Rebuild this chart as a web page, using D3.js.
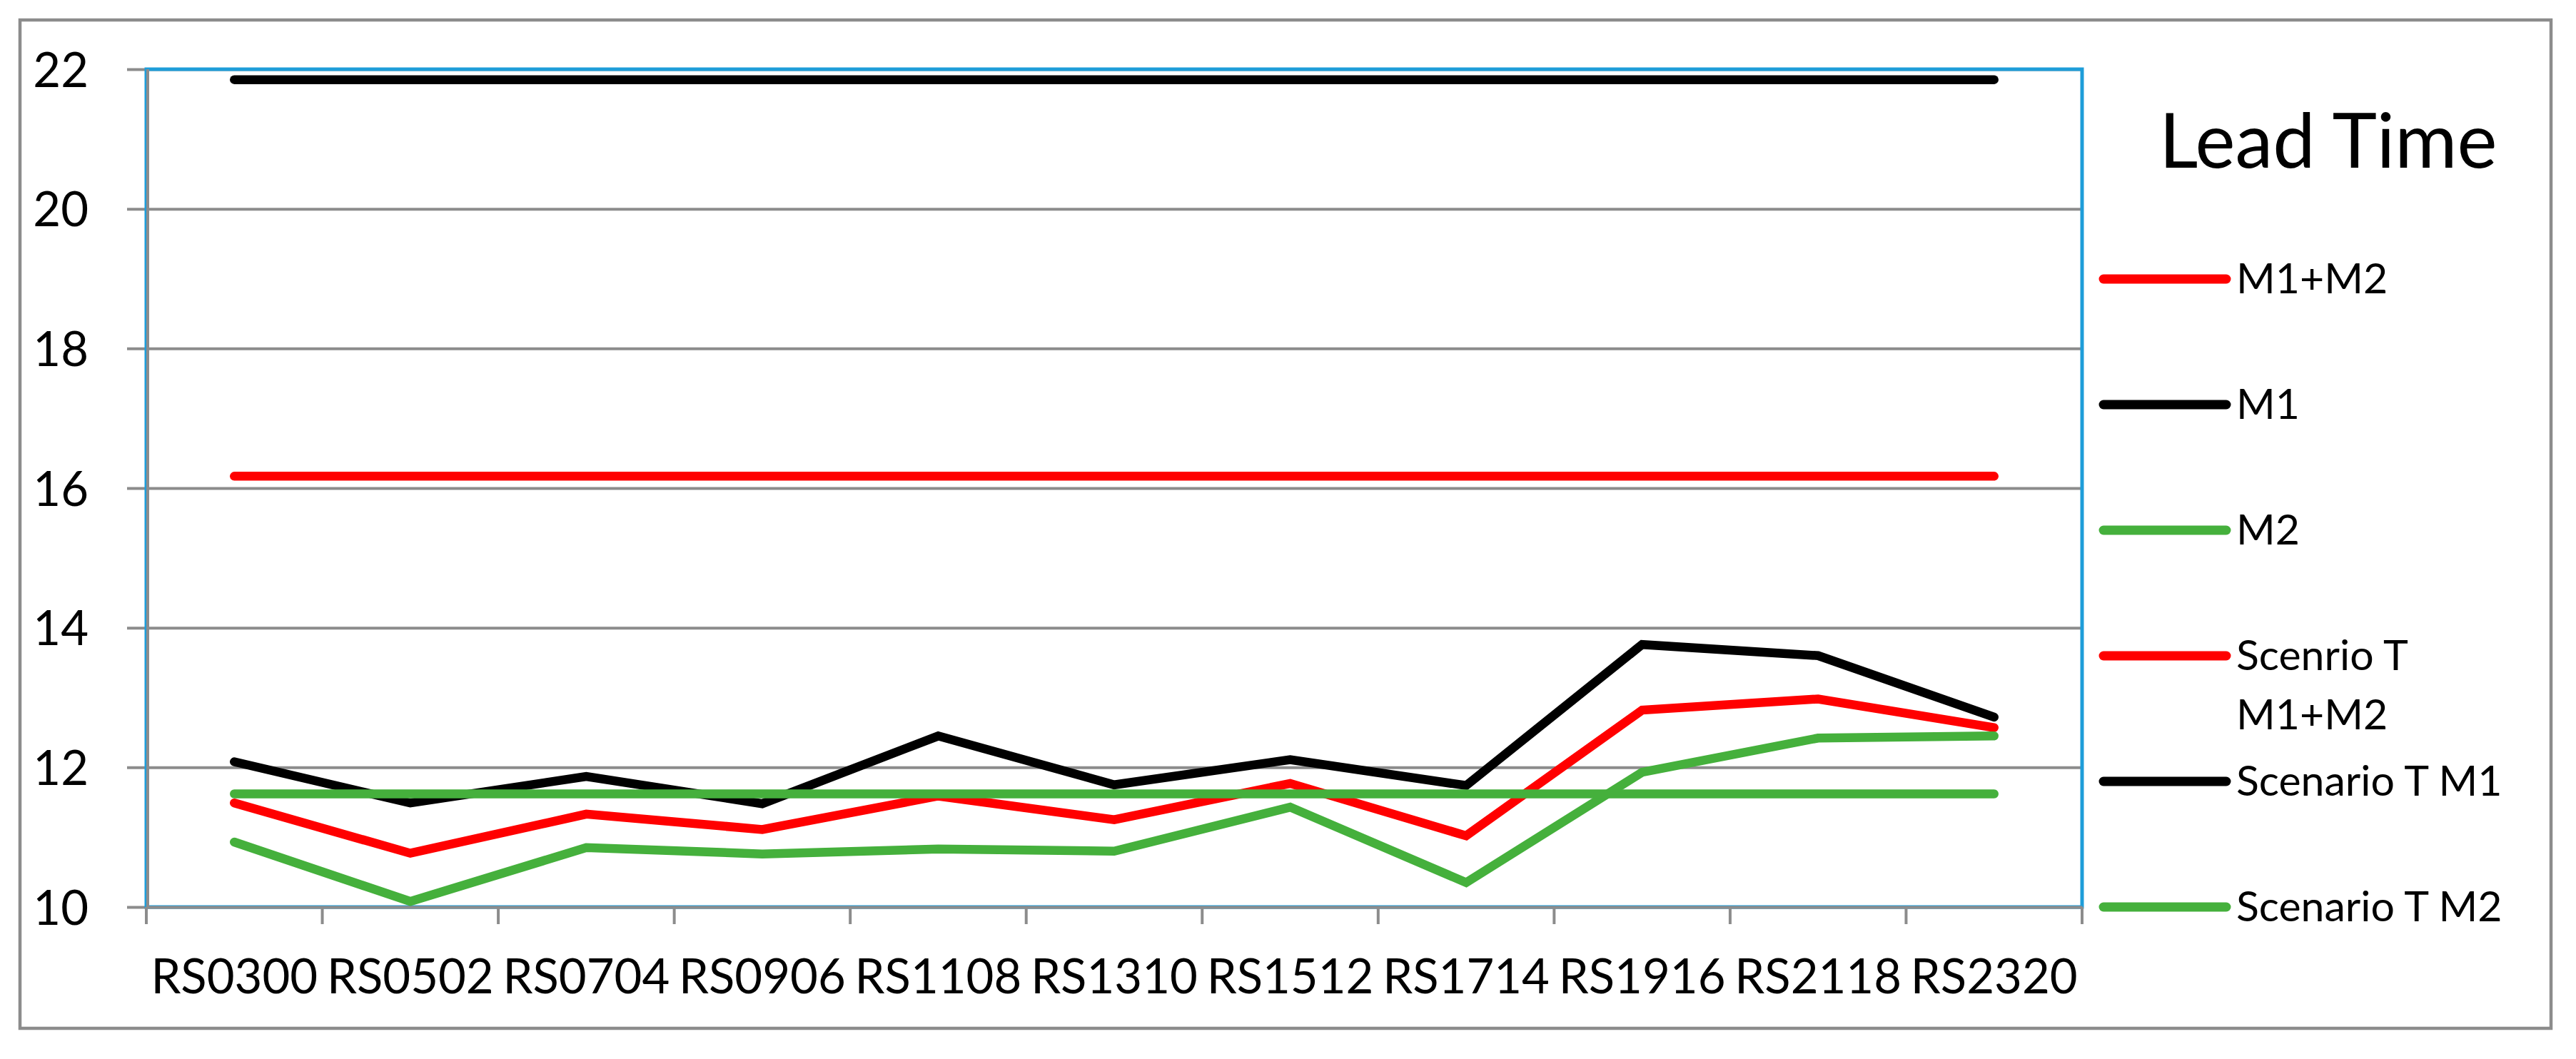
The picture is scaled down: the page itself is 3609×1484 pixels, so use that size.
<!DOCTYPE html>
<html>
<head>
<meta charset="utf-8">
<script src="https://cdn.jsdelivr.net/npm/d3@7"></script>
<style>
  html, body { margin: 0; padding: 0; background: #fff; }
  svg { display: block; font-family: Lato, "Open Sans", sans-serif; }
</style>
</head>
<body>
<div id="chart"></div>
<script>
// data
const categories = ["RS0300", "RS0502", "RS0704", "RS0906", "RS1108", "RS1310", "RS1512", "RS1714", "RS1916", "RS2118", "RS2320"];
const yTicks = [10, 12, 14, 16, 18, 20, 22];

const m1m2 = [16.17, 16.17, 16.17, 16.17, 16.17, 16.17, 16.17, 16.17, 16.17, 16.17, 16.17];
const m1 = [21.85, 21.85, 21.85, 21.85, 21.85, 21.85, 21.85, 21.85, 21.85, 21.85, 21.85];
const m2 = [11.62, 11.62, 11.62, 11.62, 11.62, 11.62, 11.62, 11.62, 11.62, 11.62, 11.62];
const scenM1M2 = [11.49, 10.77, 11.33, 11.11, 11.59, 11.25, 11.77, 11.02, 12.82, 12.98, 12.57];
const scenM1 = [12.08, 11.49, 11.87, 11.48, 12.45, 11.75, 12.11, 11.74, 13.76, 13.60, 12.72];
const scenM2 = [10.93, 10.08, 10.85, 10.76, 10.83, 10.80, 11.43, 10.35, 11.93, 12.42, 12.45];

const legendTitle = "Lead Time";
const legendNames = ["M1+M2", "M1", "M2", "Scenrio T M1+M2", "Scenario T M1", "Scenario T M2"];

const RED = "#ff0000", BLACK = "#000000", GREEN = "#45b03c";
const GRAY = "#8c8c8c", BLUE = "#1e9dd9";

// legend order
const series = [
    { name: legendNames[0], values: m1m2, color: RED },
    { name: legendNames[1], values: m1, color: BLACK },
    { name: legendNames[2], values: m2, color: GREEN },
    { name: legendNames[3], values: scenM1M2, color: RED, lines: ["Scenrio T", "M1+M2"] },
    { name: legendNames[4], values: scenM1, color: BLACK },
    { name: legendNames[5], values: scenM2, color: GREEN }
];
// scenario lines sit under the flat ones
const drawOrder = [3, 4, 5, 0, 1, 2];

const width = 3609;
const height = 1484;
const plot = { left: 205, top: 97, right: 2917, bottom: 1271 };

const svg = d3.select("#chart")
    .append("svg")
    .attr("width", width)
    .attr("height", height);

svg.append("rect")
    .attr("width", width)
    .attr("height", height)
    .attr("fill", "#fff");

// outer frame
svg.append("rect")
    .attr("x", 28)
    .attr("y", 28)
    .attr("width", 3546)
    .attr("height", 1413)
    .attr("fill", "none")
    .attr("stroke", GRAY)
    .attr("stroke-width", 4.5);

const x = d3.scaleBand()
    .domain(categories)
    .range([plot.left, plot.right])
    .padding(0);

const y = d3.scaleLinear()
    .domain([10, 22])
    .range([plot.bottom, plot.top]);

const cx = c => x(c) + x.bandwidth() / 2;

// gridlines + y labels
const yAxis = svg.append("g")
    .attr("transform", `translate(${plot.left},0)`)
    .call(d3.axisLeft(y).tickValues(yTicks).tickSize(0).tickPadding(0));

yAxis.select(".domain").remove();
yAxis.selectAll(".tick line")
    .attr("x1", -27)
    .attr("x2", plot.right - plot.left)
    .attr("stroke", GRAY)
    .attr("stroke-width", 4);
yAxis.selectAll(".tick text")
    .attr("x", 124 - plot.left)
    .attr("dy", "0.36em")
    .attr("fill", "#000")
    .attr("font-family", "Lato")
    .attr("font-size", 67);

// plot area border
svg.append("rect")
    .attr("x", plot.left)
    .attr("y", plot.top)
    .attr("width", plot.right - plot.left)
    .attr("height", plot.bottom - plot.top)
    .attr("fill", "none")
    .attr("stroke", BLUE)
    .attr("stroke-width", 5);

// y axis line
svg.append("line")
    .attr("x1", plot.left + 2).attr("x2", plot.left + 2)
    .attr("y1", plot.top).attr("y2", plot.bottom + 2)
    .attr("stroke", GRAY)
    .attr("stroke-width", 4);

// x axis with labels at centres, ticks at category edges
const xAxis = svg.append("g")
    .attr("transform", `translate(0,${plot.bottom})`)
    .call(d3.axisBottom(x).tickSize(0).tickPadding(0));

xAxis.select(".domain")
    .attr("stroke", GRAY)
    .attr("stroke-width", 4);
xAxis.selectAll(".tick text")
    .attr("y", 121)
    .attr("dy", 0)
    .attr("fill", "#000")
    .attr("font-family", "Lato")
    .attr("font-size", 67);

svg.append("g")
    .selectAll("line")
    .data(categories.map(c => x(c)).concat([plot.right]))
    .enter()
    .append("line")
    .attr("x1", d => d).attr("x2", d => d)
    .attr("y1", plot.bottom).attr("y2", plot.bottom + 24)
    .attr("stroke", GRAY)
    .attr("stroke-width", 4);

// series
const line = d3.line()
    .x((d, i) => cx(categories[i]))
    .y(d => y(d));

svg.append("g")
    .selectAll("path")
    .data(drawOrder.map(i => series[i]))
    .enter()
    .append("path")
    .attr("d", d => line(d.values))
    .attr("fill", "none")
    .attr("stroke", d => d.color)
    .attr("stroke-width", 12.5)
    .attr("stroke-linecap", "round")
    .attr("stroke-linejoin", "miter");

// legend
svg.append("text")
    .attr("x", 3025)
    .attr("y", 235)
    .attr("font-family", "Lato")
    .attr("font-size", 106)
    .attr("fill", "#000")
    .text(legendTitle);

const legend = svg.append("g")
    .selectAll("g")
    .data(series)
    .enter()
    .append("g")
    .attr("transform", (d, i) => `translate(0,${391 + i * 176})`);

legend.append("line")
    .attr("x1", 2947).attr("x2", 3119)
    .attr("y1", 0).attr("y2", 0)
    .attr("stroke", d => d.color)
    .attr("stroke-width", 13)
    .attr("stroke-linecap", "round");

legend.append("text")
    .attr("x", 3133)
    .attr("y", 20)
    .attr("font-family", "Lato")
    .attr("font-size", 59)
    .attr("fill", "#000")
    .each(function (d) {
        const t = d3.select(this);
        const parts = d.lines || [d.name];
        parts.forEach((p, k) => {
            t.append("tspan")
                .attr("x", 3133)
                .attr("dy", k === 0 ? 0 : 83)
                .text(p);
        });
    });
</script>
</body>
</html>
